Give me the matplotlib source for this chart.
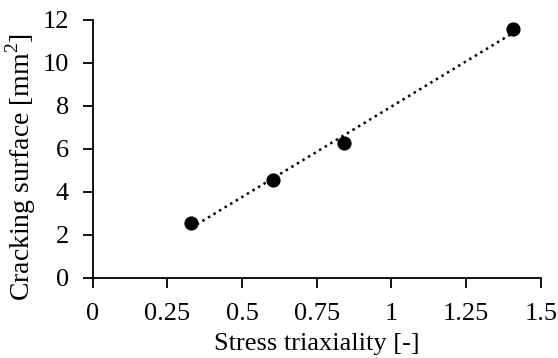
import numpy as np
import matplotlib
matplotlib.use("Agg")
import matplotlib.pyplot as plt

triaxiality = [0.33, 0.605, 0.842, 1.406]
cracking_surface = [2.56, 4.57, 6.29, 11.57]
x_ticks = [0, 0.25, 0.5, 0.75, 1, 1.25, 1.5]
x_tick_labels = ["0", "0.25", "0.5", "0.75", "1", "1.25", "1.5"]
y_ticks = [0, 2, 4, 6, 8, 10, 12]

plt.rcParams['font.family'] = ['Liberation Serif', 'DejaVu Serif']
plt.rcParams['mathtext.fontset'] = 'custom'
plt.rcParams['mathtext.rm'] = 'Liberation Serif'

fig = plt.figure(figsize=(5.58, 3.58), dpi=100)
ax = fig.add_axes([92.7/558, 1-277.7/358, (540.7-92.7)/558, (277.7-20)/358])

coef = np.polyfit(triaxiality, cracking_surface, 1)
xs = np.array([min(triaxiality), max(triaxiality)])
ax.plot(xs, np.polyval(coef, xs), color='black', linestyle=(0, (1, 1.6)), linewidth=1.8)
ax.scatter(triaxiality, cracking_surface, s=85, color='black', zorder=3)

ax.set_xlim(0, 1.5)
ax.set_ylim(0, 12)
ax.set_xticks(x_ticks)
ax.set_xticklabels(x_tick_labels)
ax.set_yticks(y_ticks)
for s in ['top', 'right']:
    ax.spines[s].set_visible(False)
for s in ['left', 'bottom']:
    ax.spines[s].set_linewidth(1.3)
ax.tick_params(direction='out', length=7, width=1.3, labelsize=19)
ax.tick_params(axis='x', pad=11)
ax.tick_params(axis='y', pad=10)
ax.set_xlabel('Stress triaxiality [-]', fontsize=19, labelpad=6)
ax.set_ylabel('Cracking surface [mm$^\\mathregular{2}$]', fontsize=20)
ax.yaxis.set_label_coords(-0.121, 0.4315)

fig.savefig('out.png', dpi=100)
